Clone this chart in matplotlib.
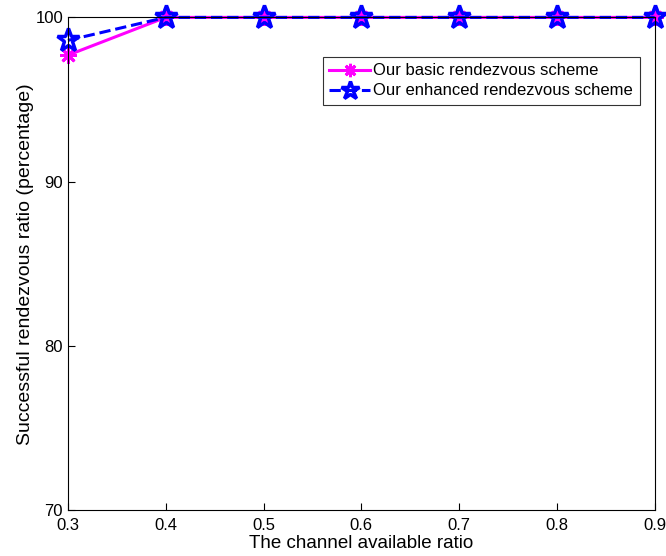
import matplotlib
matplotlib.use("Agg")
import matplotlib.pyplot as plt

plt.rcParams['font.family'] = ['Liberation Sans', 'DejaVu Sans']

x = [0.3, 0.4, 0.5, 0.6, 0.7, 0.8, 0.9]
basic = [97.7, 100, 100, 100, 100, 100, 100]
enhanced = [98.6, 100, 100, 100, 100, 100, 100]
xticks = [0.3, 0.4, 0.5, 0.6, 0.7, 0.8, 0.9]
yticks = [70, 80, 90, 100]

fig = plt.figure(figsize=(6.66, 5.56), dpi=100)
ax = fig.add_axes([0.102, 0.0827, 0.881, 0.886])
ax.plot(x, basic, color='#ff00ff', linestyle='-', linewidth=2.2, marker=(8, 2, 0),
        markersize=12, markeredgewidth=2, label='Our basic rendezvous scheme', clip_on=False)
ax.plot(x, enhanced, color='#0000ff', linestyle='--', linewidth=2.2, marker='*',
        markersize=17, markerfacecolor='none', markeredgewidth=2.5,
        label='Our enhanced rendezvous scheme', clip_on=False)
ax.set_xlim(0.3, 0.9)
ax.set_ylim(70, 100)
ax.set_xticks(xticks)
ax.set_xticklabels([str(v) for v in xticks])
ax.set_yticks(yticks)
ax.tick_params(direction='in', labelsize=12, length=5, width=0.8)
ax.tick_params(axis='x', pad=6)
ax.set_xlabel('The channel available ratio', fontsize=13.5, labelpad=1)
ax.set_ylabel('Successful rendezvous ratio (percentage)', fontsize=14, labelpad=1)
leg = ax.legend(loc='upper left', bbox_to_anchor=(0.434, 0.92), fontsize=12,
                frameon=True, fancybox=False, edgecolor='black', handlelength=2.45,
                handletextpad=0.2, borderpad=0.4, labelspacing=0.3, borderaxespad=0,
                markerscale=0.8)
leg.get_frame().set_linewidth(0.8)
fig.savefig('out.png', dpi=100)
